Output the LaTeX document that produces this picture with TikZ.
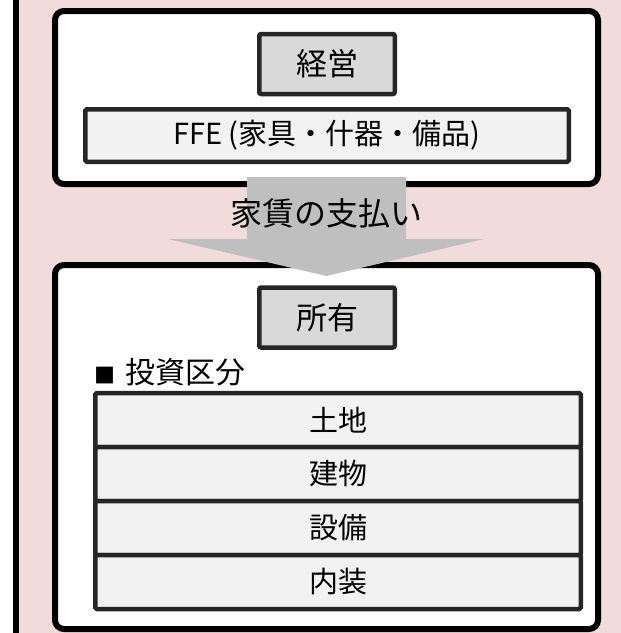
\documentclass[tikz,border=0pt]{standalone}
\usepackage{fontspec}
\newfontfamily\jp{Noto Sans CJK JP}
\definecolor{bgpink}{HTML}{F2DCDB}
\definecolor{boxdark}{HTML}{262626}
\definecolor{hdrfill}{HTML}{D9D9D9}
\definecolor{rowfill}{HTML}{F2F2F2}
\definecolor{arrowgray}{HTML}{BFBFBF}
\tikzset{
  bigbox/.style={draw=black, line width=6pt, fill=white, rounded corners=9pt, inner sep=0pt},
  hdrbox/.style={draw=boxdark, line width=4.5pt, fill=hdrfill, rounded corners=2pt, inner sep=0pt,
                 minimum width=135.5pt, minimum height=60pt, font=\jp\fontsize{31}{36}\selectfont},
  rowbox/.style={draw=boxdark, line width=4.5pt, fill=rowfill, rounded corners=1.5pt, inner sep=0pt,
                 font=\jp\fontsize{29}{34}\selectfont},
  lbl/.style={inner sep=0pt, font=\jp\fontsize{32}{36}\selectfont}
}
\begin{document}
\begin{tikzpicture}[x=1pt, y=-1pt]
\useasboundingbox (0,0) rectangle (621,633);
% background panel
\fill[bgpink] (16,-10) rectangle (640,650);
\draw[black, line width=6pt] (16,-10) -- (16,650);
% top container
\node[bigbox, minimum width=543pt, minimum height=173pt] (top) at (326.5,97.5) {};
\node[hdrbox] (keiei) at (327,64) {経営};
\node[rowbox, minimum width=483.5pt, minimum height=52.5pt, font=\jp\fontsize{29}{34}\selectfont] (ffe) at (327,135.5) {FFE (家具・什器・備品)};
% bottom container
\node[bigbox, minimum width=543pt, minimum height=364pt] (bot) at (326.5,447) {};
\node[hdrbox] (shoyu) at (327,317.5) {所有};
\node[lbl, anchor=west, font=\jp\fontsize{30}{34}\selectfont] (kubun) at (94,372) {{\fontsize{21}{24}\selectfont ■}\hspace{10pt}投資区分};
\node[rowbox, minimum width=485.5pt, minimum height=54pt] (r1) at (338,420) {土地};
\node[rowbox, minimum width=485.5pt, minimum height=54pt] (r2) at (338,474) {建物};
\node[rowbox, minimum width=485.5pt, minimum height=54pt] (r3) at (338,528) {設備};
\node[rowbox, minimum width=485.5pt, minimum height=54pt] (r4) at (338,582) {内装};
% block arrow
\fill[arrowgray] (247,177) -- (406,177) -- (406,239) -- (484,239) -- (326.5,276) -- (168,239) -- (247,239) -- cycle;
\node[lbl] (rent) at (326,213) {家賃の支払い};
\end{tikzpicture}
\end{document}
